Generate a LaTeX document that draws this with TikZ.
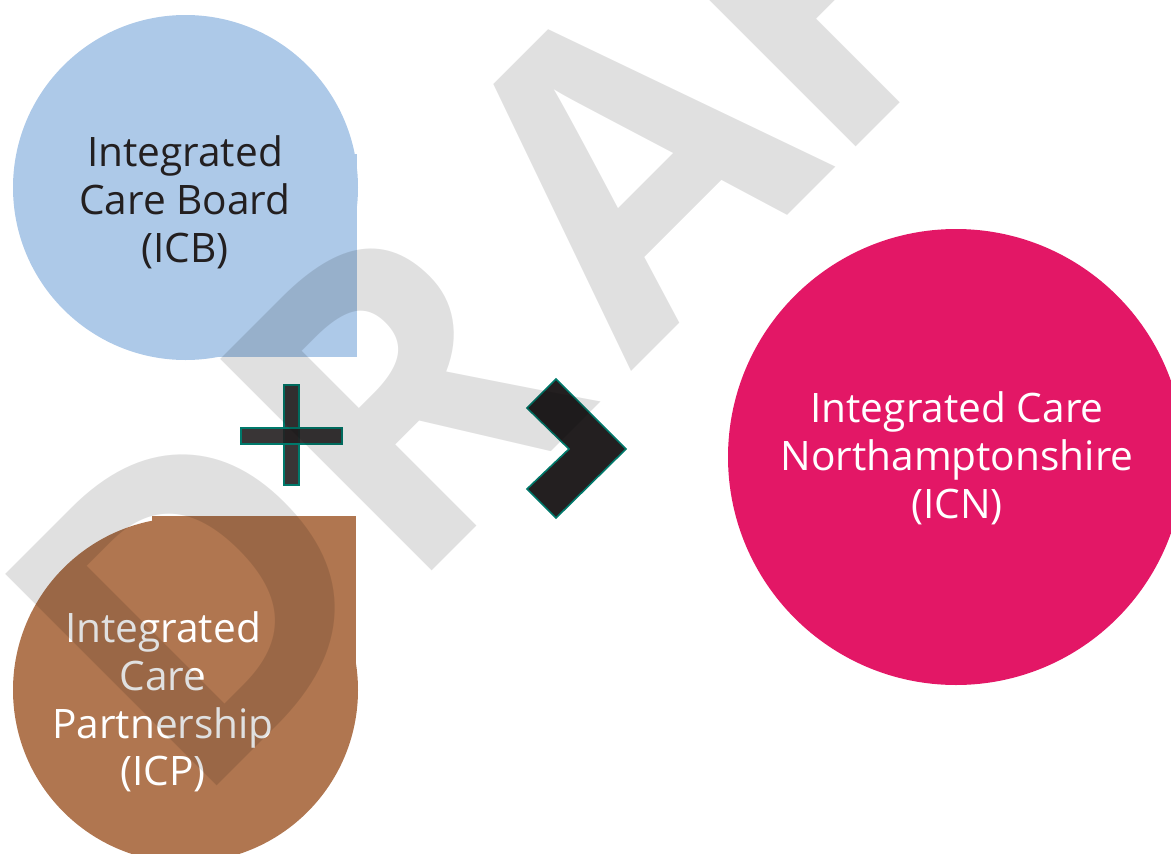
\documentclass[tikz,border=0pt]{standalone}
\usepackage{fontspec}
\setmainfont{Open Sans}
\definecolor{icbblue}{HTML}{ADC9E8}
\definecolor{icpbrown}{HTML}{B07650}
\definecolor{icnpink}{HTML}{E31766}
\definecolor{markdark}{HTML}{231F20}
\definecolor{markteal}{HTML}{00796B}
\definecolor{icbtext}{HTML}{231F20}
\begin{document}
\begin{tikzpicture}[x=1pt,y=-1pt,
  labeltext/.style={align=center,inner sep=0pt,font=\fontsize{40.6}{47.8}\selectfont},
  wmletter/.style={inner sep=0pt,rotate=45,text=black,text opacity=0.12,
    font=\fontsize{419}{419}\selectfont\bfseries},
  symbolshape/.style={fill=markdark,draw=markteal,line width=1.6pt,line join=miter}]
\useasboundingbox (0,0) rectangle (1171,854);
\clip (0,0) rectangle (1171,854);
% ICB shape
\fill[icbblue] (185.5,187.5) circle (172.5pt);
\fill[icbblue] (185.5,154) rectangle (357,357);
% ICP shape
\fill[icpbrown] (185.5,690) circle (172.5pt);
\fill[icpbrown] (152,516) rectangle (356,690);
% ICN circle
\fill[icnpink] (956,457) circle (228pt);
% plus
\path[symbolshape,fill opacity=0.9] (284,385) rectangle (299,485);
\path[symbolshape,fill opacity=0.9] (241,428) rectangle (342,444);
% chevron
\path[symbolshape] (556,379) -- (626,449) -- (556,518) -- (527,489) -- (569,449) -- (527,408) -- cycle;
% labels
\node[labeltext,text=icbtext] (icb) at (185,202) {Integrated\\Care Board\\(ICB)};
\node[labeltext,text=white] (icp) at (163,702) {Integrated\\Care\\Partnership\\(ICP)};
\node[labeltext,text=white] (icn) at (957,458) {Integrated Care\\Northamptonshire\\(ICN)};
% watermark
\node[wmletter,anchor=base west] (wmD) at (190.5,812.5) {D};
\node[wmletter,anchor=base west] (wmR) at (405.5,597.5) {R};
\node[wmletter,anchor=base west] (wmA) at (631,372) {A};
\node[wmletter,anchor=base west] (wmF) at (829,174) {F};
\end{tikzpicture}
\end{document}
